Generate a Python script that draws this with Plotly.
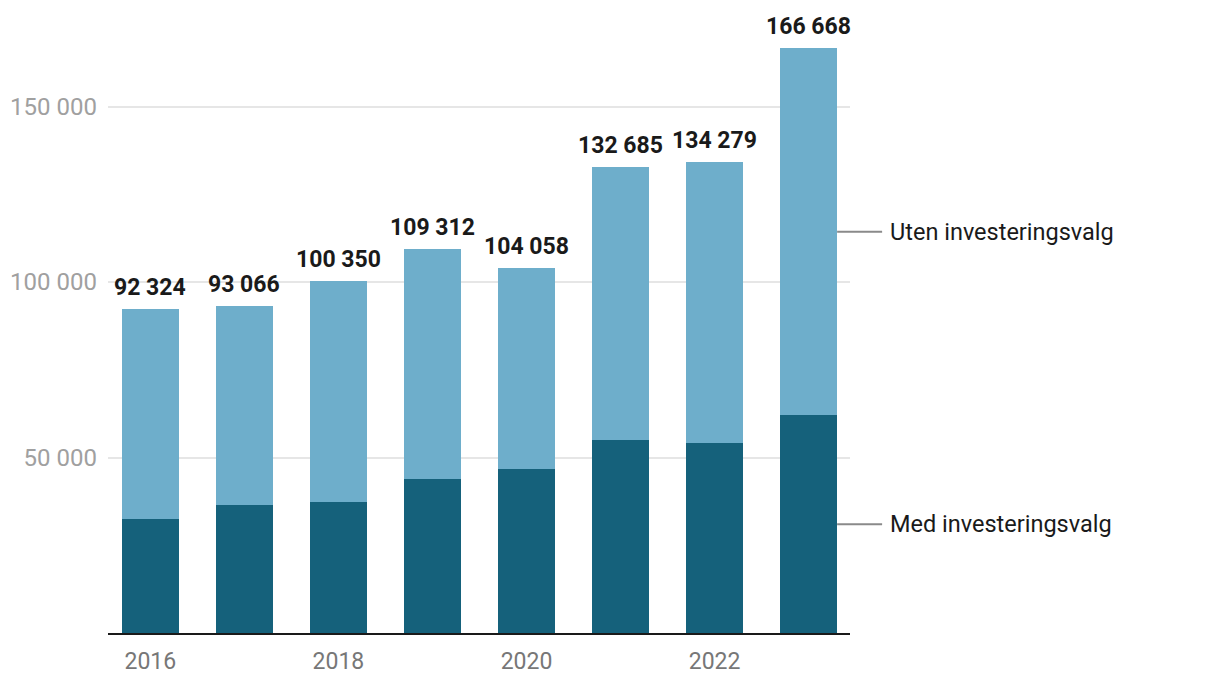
import plotly.graph_objects as go

years = [2016, 2017, 2018, 2019, 2020, 2021, 2022, 2023]
totals = [92324, 93066, 100350, 109312, 104058, 132685, 134279, 166668]
med = [32600, 36600, 37400, 44000, 46850, 54850, 54000, 62000]
uten = [t - m for t, m in zip(totals, med)]
total_labels = ["92 324", "93 066", "100 350", "109 312", "104 058", "132 685", "134 279", "166 668"]
ytick_vals = [50000, 100000, 150000]
ytick_text = ["50 000", "100 000", "150 000"]
xtick_vals = [2016, 2018, 2020, 2022]
series_names = ["Med investeringsvalg", "Uten investeringsvalg"]

dark = "#15617B"
light = "#6EAECB"

fig = go.Figure()
fig.add_trace(go.Bar(x=years, y=med, name=series_names[0], marker=dict(color=dark, line=dict(width=0)), width=0.606))
fig.add_trace(go.Bar(x=years, y=uten, name=series_names[1], marker=dict(color=light, line=dict(width=0)), width=0.606))

for yr, tot, lab in zip(years, totals, total_labels):
    fig.add_annotation(x=yr, y=tot, text="<b>" + lab + "</b>", showarrow=False,
                       xanchor="center", yanchor="bottom", yshift=6,
                       font=dict(family="Roboto", size=23, color="#1a1a1a"))

plot_w = 742
xmin, xmax = years[0] - 0.45, years[-1] + 0.44
span = xmax - xmin
half = 0.303
x0p = (years[-1] + half - xmin) / span
x1p = x0p + 45 / plot_w
mids = [med[-1] / 2, med[-1] + uten[-1] / 2]
for name, ym in zip(series_names, mids):
    fig.add_shape(type="line", xref="paper", yref="y", x0=x0p, x1=x1p, y0=ym, y1=ym,
                  line=dict(color="#8a8a8a", width=2))
    fig.add_annotation(xref="paper", yref="y", x=x1p + 6 / plot_w, y=ym, text=name, showarrow=False,
                       xanchor="left", yanchor="middle",
                       font=dict(family="Roboto", size=23.5, color="#1a1a1a"))

fig.update_layout(
    barmode="stack",
    width=1220, height=690,
    margin=dict(l=100, r=1220 - 100 - plot_w, t=12, b=65, autoexpand=False),
    paper_bgcolor="white", plot_bgcolor="white",
    showlegend=False,
    bargap=0,
    font=dict(family="Roboto"),
)
fig.update_xaxes(range=[xmin, xmax], tickvals=xtick_vals, ticktext=[str(v) for v in xtick_vals],
                 showline=True, linecolor="#1a1a1a", linewidth=2, ticks="", showgrid=False,
                 ticklabelstandoff=6, automargin=False,
                 tickfont=dict(family="Roboto", size=23, color="#777777"))
fig.update_yaxes(range=[0, 613 / 175.5 * 50000], tickvals=ytick_vals, ticktext=ytick_text,
                 showgrid=True, gridcolor="#e6e6e6", gridwidth=2, zeroline=False, ticks="",
                 ticklabelstandoff=10, automargin=False,
                 tickfont=dict(family="Roboto", size=24, color="#a0a0a0"))

fig.write_html("out.html")
